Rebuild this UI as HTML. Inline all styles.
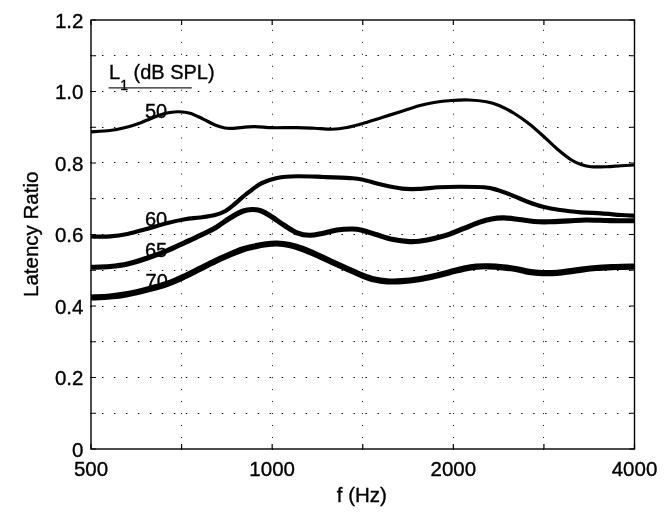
<!DOCTYPE html>
<html lang="en">
<head>
<meta charset="utf-8">
<title>Latency Ratio vs f (Hz)</title>
<style>
html,body{margin:0;padding:0;background:#fff;}
body{width:668px;height:520px;overflow:hidden;}
svg{display:block;}
text{font-family:"Liberation Sans",Arial,Helvetica,sans-serif;font-size:20.5px;fill:#000;stroke:#000;stroke-width:0.35px;}
.g{stroke:#111;stroke-width:1;stroke-dasharray:1 10.976;fill:none;}
.gh{stroke-dasharray:1.5 10.476;}
.t{stroke:#000;stroke-width:1.2;fill:none;}
</style>
</head>
<body>
<svg width="668" height="520" viewBox="0 0 668 520">
<rect x="0" y="0" width="668" height="520" fill="#fff"/>
<g id="grid">
<line x1="90.00" y1="413.50" x2="634.50" y2="413.50" class="g gh"/>
<line x1="90.00" y1="377.50" x2="634.50" y2="377.50" class="g gh"/>
<line x1="90.00" y1="341.50" x2="634.50" y2="341.50" class="g gh"/>
<line x1="90.00" y1="306.50" x2="634.50" y2="306.50" class="g gh"/>
<line x1="90.00" y1="270.50" x2="634.50" y2="270.50" class="g gh"/>
<line x1="90.00" y1="234.50" x2="634.50" y2="234.50" class="g gh"/>
<line x1="90.00" y1="198.50" x2="634.50" y2="198.50" class="g gh"/>
<line x1="90.00" y1="162.50" x2="634.50" y2="162.50" class="g gh"/>
<line x1="90.00" y1="127.50" x2="634.50" y2="127.50" class="g gh"/>
<line x1="90.00" y1="91.50" x2="634.50" y2="91.50" class="g gh"/>
<line x1="90.00" y1="55.50" x2="634.50" y2="55.50" class="g gh"/>
<line x1="181.50" y1="450.00" x2="181.50" y2="20.00" class="g"/>
<line x1="272.50" y1="450.00" x2="272.50" y2="20.00" class="g"/>
<line x1="362.50" y1="450.00" x2="362.50" y2="20.00" class="g"/>
<line x1="453.50" y1="450.00" x2="453.50" y2="20.00" class="g"/>
<line x1="543.50" y1="450.00" x2="543.50" y2="20.00" class="g"/>
</g>
<g id="ticks">
<path d="M91.00,449.00h5 M634.50,449.00h-5" class="t"/>
<path d="M91.00,413.25h5 M634.50,413.25h-5" class="t"/>
<path d="M91.00,377.50h5 M634.50,377.50h-5" class="t"/>
<path d="M91.00,341.75h5 M634.50,341.75h-5" class="t"/>
<path d="M91.00,306.00h5 M634.50,306.00h-5" class="t"/>
<path d="M91.00,270.25h5 M634.50,270.25h-5" class="t"/>
<path d="M91.00,234.50h5 M634.50,234.50h-5" class="t"/>
<path d="M91.00,198.75h5 M634.50,198.75h-5" class="t"/>
<path d="M91.00,163.00h5 M634.50,163.00h-5" class="t"/>
<path d="M91.00,127.25h5 M634.50,127.25h-5" class="t"/>
<path d="M91.00,91.50h5 M634.50,91.50h-5" class="t"/>
<path d="M91.00,55.75h5 M634.50,55.75h-5" class="t"/>
<path d="M91.00,20.00h5 M634.50,20.00h-5" class="t"/>
<path d="M91.00,449.00v-5 M91.00,20.00v5" class="t"/>
<path d="M181.58,449.00v-5 M181.58,20.00v5" class="t"/>
<path d="M272.17,449.00v-5 M272.17,20.00v5" class="t"/>
<path d="M362.75,449.00v-5 M362.75,20.00v5" class="t"/>
<path d="M453.33,449.00v-5 M453.33,20.00v5" class="t"/>
<path d="M543.92,449.00v-5 M543.92,20.00v5" class="t"/>
<path d="M634.50,449.00v-5 M634.50,20.00v5" class="t"/>
</g>
<rect x="91.0" y="20.0" width="543.5" height="429.0" fill="none" stroke="#000" stroke-width="1.4"/>
<g id="curves">
<path d="M91.00,131.80 C94.17,131.58 103.92,131.30 110.00,130.50 C116.08,129.70 122.08,128.42 127.50,127.00 C132.92,125.58 137.08,124.00 142.50,122.00 C147.92,120.00 155.42,116.58 160.00,115.00 C164.58,113.42 166.88,113.04 170.00,112.50 C173.12,111.96 175.42,111.62 178.75,111.75 C182.08,111.88 186.04,112.08 190.00,113.25 C193.96,114.42 198.33,116.79 202.50,118.75 C206.67,120.71 211.25,123.46 215.00,125.00 C218.75,126.54 222.00,127.45 225.00,128.00 C228.00,128.55 228.17,128.53 233.00,128.30 C237.83,128.07 247.50,126.70 254.00,126.60 C260.50,126.50 264.83,127.53 272.00,127.70 C279.17,127.87 289.92,127.51 297.00,127.60 C304.08,127.69 308.67,127.97 314.50,128.25 C320.33,128.53 326.58,129.38 332.00,129.25 C337.42,129.12 342.00,128.42 347.00,127.50 C352.00,126.58 356.17,125.42 362.00,123.75 C367.83,122.08 375.33,119.58 382.00,117.50 C388.67,115.42 395.83,113.21 402.00,111.25 C408.17,109.29 413.67,107.21 419.00,105.75 C424.33,104.29 428.58,103.38 434.00,102.50 C439.42,101.62 445.67,100.92 451.50,100.50 C457.33,100.08 463.17,99.79 469.00,100.00 C474.83,100.21 481.50,100.83 486.50,101.75 C491.50,102.67 494.42,103.58 499.00,105.50 C503.58,107.42 509.00,110.21 514.00,113.25 C519.00,116.29 524.00,119.83 529.00,123.75 C534.00,127.67 539.00,132.29 544.00,136.75 C549.00,141.21 554.42,146.62 559.00,150.50 C563.58,154.38 567.83,157.67 571.50,160.00 C575.17,162.33 577.75,163.38 581.00,164.50 C584.25,165.62 586.83,166.38 591.00,166.75 C595.17,167.12 601.00,166.92 606.00,166.75 C611.00,166.58 616.25,166.04 621.00,165.75 C625.75,165.46 632.25,165.12 634.50,165.00" fill="none" stroke="#000" stroke-width="3.2" stroke-linejoin="round"/>
<path d="M91.00,236.50 C94.17,236.48 103.92,236.82 110.00,236.40 C116.08,235.98 121.25,235.28 127.50,234.00 C133.75,232.72 140.83,230.58 147.50,228.75 C154.17,226.92 161.25,224.58 167.50,223.00 C173.75,221.42 179.58,220.17 185.00,219.25 C190.42,218.33 195.00,218.21 200.00,217.50 C205.00,216.79 210.83,216.04 215.00,215.00 C219.17,213.96 221.67,213.12 225.00,211.25 C228.33,209.38 231.67,206.46 235.00,203.75 C238.33,201.04 242.17,197.33 245.00,195.00 C247.83,192.67 249.17,191.75 252.00,189.75 C254.83,187.75 257.83,184.96 262.00,183.00 C266.17,181.04 271.17,179.12 277.00,178.00 C282.83,176.88 289.17,176.42 297.00,176.25 C304.83,176.08 315.17,176.69 324.00,177.00 C332.83,177.31 343.67,177.68 350.00,178.10 C356.33,178.52 356.67,178.39 362.00,179.50 C367.33,180.61 375.33,183.23 382.00,184.75 C388.67,186.27 395.83,187.91 402.00,188.60 C408.17,189.29 412.83,189.12 419.00,188.90 C425.17,188.68 432.33,187.61 439.00,187.25 C445.67,186.89 451.50,186.75 459.00,186.75 C466.50,186.75 477.58,186.71 484.00,187.25 C490.42,187.79 492.75,188.62 497.50,190.00 C502.25,191.38 507.50,193.54 512.50,195.50 C517.50,197.46 522.42,199.88 527.50,201.75 C532.58,203.62 537.58,205.38 543.00,206.75 C548.42,208.12 553.67,209.07 560.00,210.00 C566.33,210.93 574.17,211.73 581.00,212.30 C587.83,212.87 594.33,212.95 601.00,213.40 C607.67,213.85 615.42,214.60 621.00,215.00 C626.58,215.40 632.25,215.67 634.50,215.80" fill="none" stroke="#000" stroke-width="4.2" stroke-linejoin="round"/>
<path d="M91.00,267.30 C94.17,267.17 103.92,267.05 110.00,266.50 C116.08,265.95 121.25,265.42 127.50,264.00 C133.75,262.58 140.83,260.25 147.50,258.00 C154.17,255.75 161.25,253.08 167.50,250.50 C173.75,247.92 179.58,245.00 185.00,242.50 C190.42,240.00 195.00,237.92 200.00,235.50 C205.00,233.08 210.00,230.92 215.00,228.00 C220.00,225.08 225.42,220.79 230.00,218.00 C234.58,215.21 238.83,212.67 242.50,211.25 C246.17,209.83 248.75,209.50 252.00,209.50 C255.25,209.50 258.67,210.00 262.00,211.25 C265.33,212.50 268.25,214.62 272.00,217.00 C275.75,219.38 280.33,222.87 284.50,225.50 C288.67,228.13 292.83,231.17 297.00,232.80 C301.17,234.43 305.33,235.18 309.50,235.30 C313.67,235.42 317.42,234.38 322.00,233.50 C326.58,232.62 332.00,230.75 337.00,230.00 C342.00,229.25 347.83,228.97 352.00,229.00 C356.17,229.03 357.83,229.23 362.00,230.20 C366.17,231.17 372.00,233.28 377.00,234.80 C382.00,236.32 387.00,238.20 392.00,239.30 C397.00,240.40 402.50,241.08 407.00,241.40 C411.50,241.72 414.50,241.68 419.00,241.20 C423.50,240.72 429.00,239.63 434.00,238.50 C439.00,237.37 444.00,236.08 449.00,234.40 C454.00,232.72 459.00,230.40 464.00,228.40 C469.00,226.40 474.42,223.98 479.00,222.40 C483.58,220.82 487.33,219.65 491.50,218.90 C495.67,218.15 499.42,217.80 504.00,217.90 C508.58,218.00 514.00,218.90 519.00,219.50 C524.00,220.10 529.00,221.12 534.00,221.50 C539.00,221.88 543.17,221.90 549.00,221.80 C554.83,221.70 562.83,221.20 569.00,220.90 C575.17,220.60 579.17,220.05 586.00,220.00 C592.83,219.95 601.92,220.47 610.00,220.60 C618.08,220.73 630.42,220.77 634.50,220.80" fill="none" stroke="#000" stroke-width="5.1" stroke-linejoin="round"/>
<path d="M91.00,297.50 C94.17,297.33 103.92,297.07 110.00,296.50 C116.08,295.93 121.25,295.27 127.50,294.10 C133.75,292.93 140.83,291.23 147.50,289.50 C154.17,287.77 161.25,285.96 167.50,283.75 C173.75,281.54 179.58,278.75 185.00,276.25 C190.42,273.75 195.00,271.25 200.00,268.75 C205.00,266.25 210.00,263.62 215.00,261.25 C220.00,258.88 225.42,256.46 230.00,254.50 C234.58,252.54 238.83,250.75 242.50,249.50 C246.17,248.25 248.33,247.83 252.00,247.00 C255.67,246.17 260.33,245.08 264.50,244.50 C268.67,243.92 272.83,243.42 277.00,243.50 C281.17,243.58 285.33,244.12 289.50,245.00 C293.67,245.88 297.42,247.08 302.00,248.75 C306.58,250.42 312.00,252.79 317.00,255.00 C322.00,257.21 327.00,259.71 332.00,262.00 C337.00,264.29 342.00,266.53 347.00,268.75 C352.00,270.97 357.42,273.51 362.00,275.30 C366.58,277.09 370.33,278.50 374.50,279.50 C378.67,280.50 382.42,281.02 387.00,281.30 C391.58,281.58 396.67,281.55 402.00,281.20 C407.33,280.85 413.67,280.03 419.00,279.20 C424.33,278.37 429.00,277.33 434.00,276.20 C439.00,275.07 444.00,273.67 449.00,272.40 C454.00,271.13 459.42,269.57 464.00,268.60 C468.58,267.63 472.33,266.98 476.50,266.60 C480.67,266.22 484.58,266.18 489.00,266.30 C493.42,266.42 498.33,266.82 503.00,267.30 C507.67,267.78 512.67,268.43 517.00,269.20 C521.33,269.97 524.83,271.25 529.00,271.90 C533.17,272.55 537.33,272.95 542.00,273.10 C546.67,273.25 551.33,273.25 557.00,272.80 C562.67,272.35 569.50,271.20 576.00,270.40 C582.50,269.60 589.33,268.57 596.00,268.00 C602.67,267.43 609.58,267.25 616.00,267.00 C622.42,266.75 631.42,266.58 634.50,266.50" fill="none" stroke="#000" stroke-width="6.2" stroke-linejoin="round"/>
</g>
<g id="ylabels">
<text x="83.4" y="456.50" text-anchor="end">0</text>
<text x="83.4" y="385.00" text-anchor="end">0.2</text>
<text x="83.4" y="313.50" text-anchor="end">0.4</text>
<text x="83.4" y="242.00" text-anchor="end">0.6</text>
<text x="83.4" y="170.50" text-anchor="end">0.8</text>
<text x="83.4" y="99.00" text-anchor="end">1.0</text>
<text x="83.4" y="27.50" text-anchor="end">1.2</text>
</g>
<g id="xlabels">
<text x="91.00" y="475.6" text-anchor="middle">500</text>
<text x="272.17" y="475.6" text-anchor="middle">1000</text>
<text x="453.33" y="475.6" text-anchor="middle">2000</text>
<text x="634.50" y="475.6" text-anchor="middle">4000</text>
</g>
<text x="361.8" y="501.5" text-anchor="middle">f (Hz)</text>
<text transform="translate(37.6,234.3) rotate(-90)" text-anchor="middle">Latency Ratio</text>
<text x="109" y="79" style="font-size:20px">L<tspan dy="10.8" font-size="14">1</tspan><tspan dy="-10.8"> (dB SPL)</tspan></text>
<line x1="108.6" y1="87.9" x2="191.8" y2="87.9" stroke="#222" stroke-width="1.4"/>
<text x="145" y="117.5" style="font-size:20px">50</text>
<text x="145" y="225.5" style="font-size:20px">60</text>
<text x="145" y="256.5" style="font-size:20px">65</text>
<text x="145.6" y="287.5" style="font-size:20px">70</text>
</svg>
</body>
</html>
